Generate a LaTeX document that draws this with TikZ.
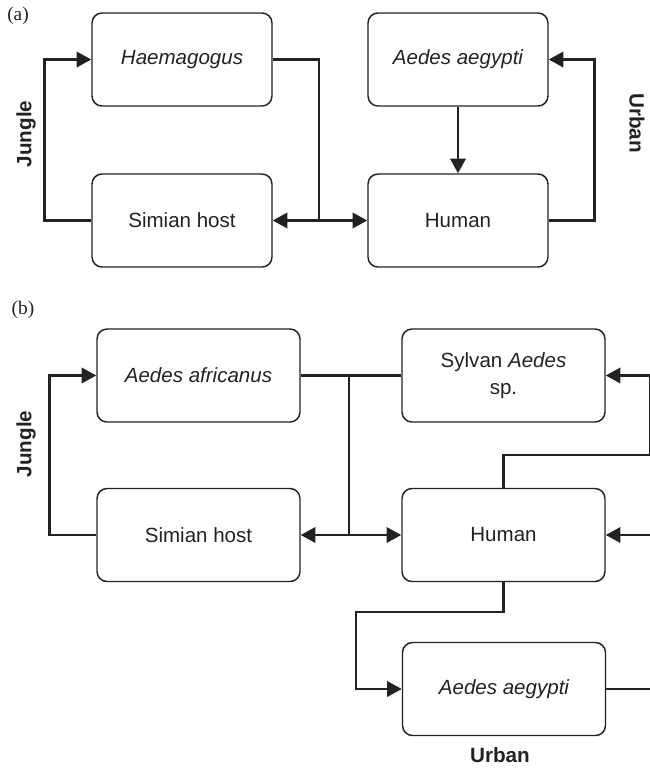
\documentclass[tikz,border=0pt]{standalone}
\usepackage{fontspec}
\setmainfont{Liberation Sans}
\newfontfamily\labfont{Liberation Serif}
\usetikzlibrary{arrows.meta}
\definecolor{ink}{HTML}{222222}
\tikzset{
  box/.style={draw=ink, line width=1.1pt, rounded corners=7.5pt, text=ink,
    font=\fontsize{15.4}{20.3}\selectfont, align=center, inner sep=0pt},
  boxa/.style={box, minimum width=135pt, minimum height=69.75pt},
  boxb/.style={box, minimum width=152.25pt, minimum height=69.75pt},
  conn/.style={draw=ink, line width=1.9pt},
  arr/.style={conn, -{Triangle[length=11pt,width=11.5pt]}},
  darr/.style={conn, {Triangle[length=11pt,width=11.5pt]}-{Triangle[length=11pt,width=11.5pt]}},
  side/.style={text=ink, font=\fontsize{15.5}{18}\selectfont\bfseries},
  panel/.style={text=ink, font=\labfont\fontsize{14.5}{17}\selectfont}
}
\begin{document}
\begin{tikzpicture}[x=0.75pt,y=-0.75pt]
\useasboundingbox (0,0) rectangle (650,769);
% ---------- (a) ----------
\node[panel] (la) at (18,16) {(a)};
\node[boxa] (hae)  at (182,59.5)  {\itshape Haemagogus};
\node[boxa] (simA) at (182,220.5) {Simian host};
\node[boxa] (aegA) at (458,59.5)  {\itshape Aedes aegypti};
\node[boxa] (humA) at (458,220.5) {Human};
\node[side, rotate=90] (jungA) at (26,134) {Jungle};
\node[side, rotate=-90] (urbA) at (637,123) {Urban};
\draw[arr] (simA.west) -- ++(-47,0) |- (hae.west);
\coordinate (ja) at (319,220.5);
\draw[conn] (hae.east) -| (ja);
\draw[darr] (simA.east) -- (humA.west);
\draw[arr] (aegA.south) -- (humA.north);
\draw[arr] (humA.east) -- ++(46,0) |- (aegA.east);
% ---------- (b) ----------
\node[panel] (lb) at (23,310) {(b)};
\node[boxb] (afr)  at (198.5,375.5) {\itshape Aedes africanus};
\node[boxb] (simB) at (198.5,535)   {Simian host};
\node[boxb] (syl)  at (503.5,375.5) {Sylvan \textit{Aedes}\\sp.};
\node[boxb] (humB) at (503.5,535)   {Human};
\node[boxb] (aegB) at (504,689)     {\itshape Aedes aegypti};
\node[side, rotate=90] (jungB) at (26,444) {Jungle};
\node[side] (urbB) at (500,755) {Urban};
\draw[arr] (simB.west) -- ++(-47,0) |- (afr.west);
\draw[conn] (afr.east) -- (syl.west);
\coordinate (jb) at (349,375.5);
\draw[conn] (jb) -- (jb |- simB.east);
\draw[darr] (simB.east) -- (humB.west);
\coordinate (rt) at (650.5,455);
\draw[arr] (humB.north) |- (rt) |- (syl.east);
\coordinate (rb) at (653,689);
\draw[arr] (aegB.east) -- (rb) |- (humB.east);
\coordinate (kb) at (356,612);
\draw[arr] (humB.south) |- (kb) |- (aegB.west);
\end{tikzpicture}
\end{document}
